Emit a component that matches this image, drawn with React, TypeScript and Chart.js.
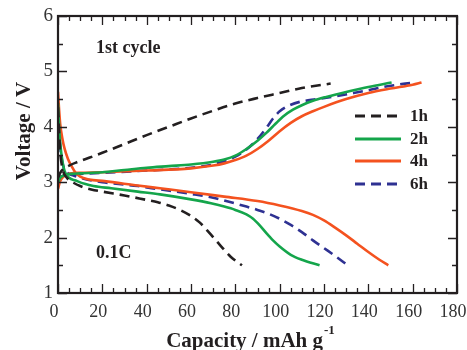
import React, { useEffect, useRef } from "react";
import { Chart, registerables } from "chart.js";

Chart.register(...registerables);

const seriesLabels = ["1h", "2h", "4h", "6h"];
const seriesColors = ["#231f20", "#14a54b", "#f4521f", "#2e3192"];
const seriesDashed = [true, false, false, true];

const xTickValues = [0, 20, 40, 60, 80, 100, 120, 140, 160, 180];
const yTickValues = [1, 2, 3, 4, 5, 6];

// 1h
const h1ChargeCap = [0, 1, 2.5, 5, 8.5, 14, 20, 30, 40, 50, 60, 70, 80, 90, 100, 110, 123];
const h1ChargeV = [3.08, 3.17, 3.24, 3.3, 3.36, 3.44, 3.53, 3.69, 3.85, 4.0, 4.15, 4.29, 4.42, 4.52, 4.61, 4.7, 4.78];
const h1DischargeCap = [0, 0.5, 1, 2, 4, 7, 10, 15, 20, 30, 40, 45, 50, 55, 60, 64, 68, 73, 78, 83];
const h1DischargeV = [4.35, 3.9, 3.55, 3.25, 3.08, 2.99, 2.93, 2.87, 2.83, 2.76, 2.68, 2.64, 2.58, 2.5, 2.39, 2.27, 2.1, 1.87, 1.65, 1.5];

// 2h
const h2ChargeCap = [0, 1, 3, 6, 10, 20, 30, 40, 50, 60, 70, 75, 80, 85, 90, 94, 98, 102, 106, 110, 115, 121, 130, 140, 150.5];
const h2ChargeV = [3.0, 3.08, 3.13, 3.15, 3.16, 3.18, 3.22, 3.26, 3.29, 3.32, 3.37, 3.41, 3.48, 3.6, 3.75, 3.89, 4.05, 4.2, 4.31, 4.39, 4.47, 4.54, 4.63, 4.72, 4.8];
const h2DischargeCap = [0, 0.5, 1, 2, 3, 5, 8, 12, 16, 24, 36, 46, 60, 69, 75, 80, 85, 88, 91, 94, 97, 100, 105, 110, 118];
const h2DischargeV = [4.43, 4.0, 3.7, 3.38, 3.2, 3.08, 3.03, 2.97, 2.93, 2.89, 2.83, 2.78, 2.69, 2.62, 2.56, 2.5, 2.42, 2.34, 2.22, 2.08, 1.95, 1.84, 1.69, 1.6, 1.5];

// 4h
const h4ChargeCap = [0, 1, 3, 6, 10, 20, 40, 60, 70, 75, 80, 85, 90, 95, 100, 105, 110, 115, 120, 130, 140, 150, 160, 164];
const h4ChargeV = [2.88, 3.02, 3.12, 3.16, 3.17, 3.18, 3.21, 3.25, 3.3, 3.34, 3.4, 3.48, 3.6, 3.75, 3.92, 4.07, 4.19, 4.28, 4.36, 4.5, 4.61, 4.69, 4.76, 4.8];
const h4DischargeCap = [0, 0.5, 1, 2, 3, 4.5, 6, 8, 10, 14, 21, 36, 46, 60, 75, 90, 100, 110, 115, 120, 125, 130, 135, 140, 145, 149];
const h4DischargeV = [4.63, 4.3, 4.05, 3.78, 3.6, 3.42, 3.3, 3.17, 3.1, 3.05, 3.02, 2.94, 2.89, 2.82, 2.74, 2.66, 2.58, 2.48, 2.41, 2.31, 2.18, 2.04, 1.89, 1.74, 1.6, 1.5];

// 6h
const h6ChargeCap = [0, 1, 3, 6, 10, 20, 40, 60, 70, 75, 80, 85, 90, 94, 97, 100, 104, 109, 117, 125, 132, 140, 147, 155, 161.5];
const h6ChargeV = [3.08, 3.1, 3.12, 3.14, 3.15, 3.17, 3.21, 3.26, 3.32, 3.38, 3.46, 3.59, 3.78, 3.98, 4.15, 4.28, 4.38, 4.45, 4.5, 4.55, 4.6, 4.66, 4.72, 4.77, 4.8];
const h6DischargeCap = [0, 0.5, 1, 2, 4, 7, 10, 14, 20, 36, 46, 60, 69, 75, 85, 90, 95, 100, 105, 110, 115, 120, 125, 131];
const h6DischargeV = [4.3, 3.95, 3.65, 3.35, 3.18, 3.12, 3.08, 3.04, 3.0, 2.93, 2.87, 2.79, 2.73, 2.67, 2.56, 2.5, 2.43, 2.34, 2.23, 2.1, 1.95, 1.81, 1.67, 1.49];

const chargeCaps = [h1ChargeCap, h2ChargeCap, h4ChargeCap, h6ChargeCap];
const chargeVs = [h1ChargeV, h2ChargeV, h4ChargeV, h6ChargeV];
const dischargeCaps = [h1DischargeCap, h2DischargeCap, h4DischargeCap, h6DischargeCap];
const dischargeVs = [h1DischargeV, h2DischargeV, h4DischargeV, h6DischargeV];

const SERIF = "'Liberation Serif', 'Times New Roman', serif";

function pts(xs: number[], ys: number[]) {
  return xs.map((x, i) => ({ x, y: ys[i] }));
}

const decorPlugin = {
  id: "decor",
  afterDatasetsDraw(chart: any) {
    const ctx = chart.ctx;
    const { left, right, top, bottom } = chart.chartArea;
    const xs = chart.scales.x;
    const ys = chart.scales.y;
    ctx.save();
    // ticks
    ctx.strokeStyle = "#231f20";
    ctx.lineWidth = 1.3;
    for (let v = 0; v <= 180; v += 5) {
      const px = Math.round(xs.getPixelForValue(v)) + 0.5;
      const len = v % 20 === 0 ? 9 : 5;
      ctx.beginPath();
      ctx.moveTo(px, bottom);
      ctx.lineTo(px, bottom - len);
      ctx.moveTo(px, top);
      ctx.lineTo(px, top + len);
      ctx.stroke();
    }
    for (let v = 1; v <= 6.001; v += 0.5) {
      const py = Math.round(ys.getPixelForValue(v)) + 0.5;
      const len = Math.abs(v - Math.round(v)) < 0.01 ? 9 : 5;
      ctx.beginPath();
      ctx.moveTo(left, py);
      ctx.lineTo(left + len, py);
      ctx.moveTo(right, py);
      ctx.lineTo(right - len, py);
      ctx.stroke();
    }
    // frame
    ctx.lineWidth = 2.2;
    ctx.strokeRect(left, top, right - left, bottom - top);

    // legend
    ctx.lineWidth = 3;
    ctx.font = "bold 17px " + SERIF;
    ctx.textBaseline = "middle";
    ctx.textAlign = "left";
    const legendY = [116, 139, 161, 184];
    for (let i = 0; i < seriesLabels.length; i++) {
      ctx.strokeStyle = seriesColors[i];
      ctx.setLineDash(seriesDashed[i] ? [10, 6] : []);
      ctx.beginPath();
      ctx.moveTo(355, legendY[i]);
      ctx.lineTo(401, legendY[i]);
      ctx.stroke();
      ctx.setLineDash([]);
      ctx.fillStyle = "#231f20";
      ctx.fillText(seriesLabels[i], 410, legendY[i] + 1);
    }

    // annotations
    ctx.font = "bold 18px " + SERIF;
    ctx.fillText("1st cycle", 96, 48);
    ctx.fillText("0.1C", 96, 253);

    // axis titles
    ctx.textBaseline = "alphabetic";
    const main = "Capacity / mAh g";
    ctx.font = "bold 21px " + SERIF;
    const wMain = ctx.measureText(main).width;
    ctx.font = "bold 13px " + SERIF;
    const wSup = ctx.measureText("-1").width;
    const startX = 250 - (wMain + wSup) / 2;
    ctx.font = "bold 21px " + SERIF;
    ctx.fillText(main, startX, 347);
    ctx.font = "bold 13px " + SERIF;
    ctx.fillText("-1", startX + wMain + 1, 334);

    ctx.translate(30, 131);
    ctx.rotate(-Math.PI / 2);
    ctx.textAlign = "center";
    ctx.font = "bold 21px " + SERIF;
    ctx.fillText("Voltage / V", 0, 0);
    ctx.restore();
  },
};

export default function App() {
  const ref = useRef<HTMLCanvasElement>(null);
  useEffect(() => {
    if (!ref.current) return;
    const datasets: any[] = [];
    for (let i = 0; i < seriesLabels.length; i++) {
      const common = {
        borderColor: seriesColors[i],
        backgroundColor: seriesColors[i],
        borderWidth: 2.6,
        borderDash: seriesDashed[i] ? [10, 6] : [],
        pointRadius: 0,
        fill: false,
        cubicInterpolationMode: "monotone",
      };
      datasets.push({ label: seriesLabels[i] + " charge", data: pts(chargeCaps[i], chargeVs[i]), ...common });
      datasets.push({ label: seriesLabels[i] + " discharge", data: pts(dischargeCaps[i], dischargeVs[i]), ...common });
    }
    const chart = new Chart(ref.current, {
      type: "line",
      data: { datasets },
      options: {
        animation: false,
        responsive: false,
        maintainAspectRatio: false,
        layout: { padding: { left: 0, top: 16, right: 10, bottom: 0 } },
        plugins: { legend: { display: false }, tooltip: { enabled: false } },
        scales: {
          x: {
            type: "linear",
            min: 0,
            max: 180,
            afterBuildTicks: (s: any) => {
              s.ticks = xTickValues.map((v) => ({ value: v }));
            },
            afterFit: (s: any) => {
              s.height = 57;
              s.paddingLeft = 0;
              s.paddingRight = 0;
            },
            grid: { display: false, drawTicks: false },
            border: { display: false },
            ticks: { padding: 8, labelOffset: -4, color: "#333", font: { family: SERIF, size: 18 }, maxRotation: 0, autoSkip: false },
          },
          y: {
            type: "linear",
            min: 1,
            max: 6,
            afterBuildTicks: (s: any) => {
              s.ticks = yTickValues.map((v) => ({ value: v }));
            },
            afterFit: (s: any) => {
              s.width = 58;
              s.paddingTop = 0;
              s.paddingBottom = 0;
            },
            grid: { display: false, drawTicks: false },
            border: { display: false },
            ticks: { padding: 5, color: "#333", font: { family: SERIF, size: 19 } },
          },
        },
      } as any,
      plugins: [decorPlugin],
    });
    return () => chart.destroy();
  }, []);
  return (
    <div style={{ position: "fixed", left: 0, top: 0, width: 467, height: 350, background: "#fff" }}>
      <canvas ref={ref} width={467} height={350} style={{ display: "block" }} />
    </div>
  );
}
